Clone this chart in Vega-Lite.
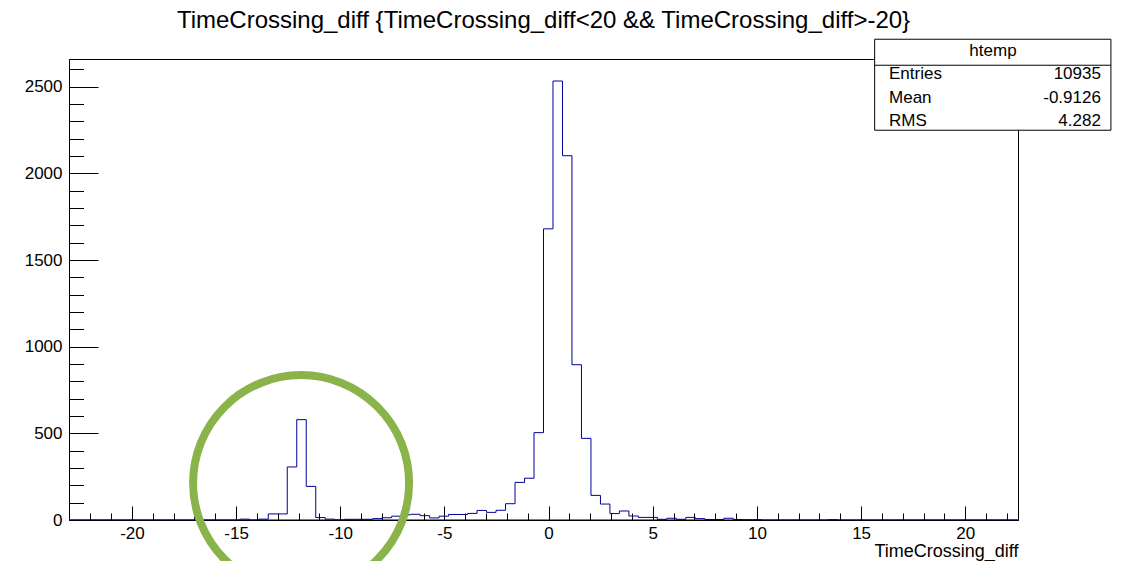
{
  "$schema": "https://vega.github.io/schema/vega-lite/v6.json",
  "autosize": "none",
  "width": 949,
  "height": 461,
  "padding": {"left": 69, "top": 59, "right": 104, "bottom": 41},
  "background": "white",
  "title": {
    "text": "TimeCrossing_diff {TimeCrossing_diff<20 && TimeCrossing_diff>-20}",
    "font": "Liberation Sans",
    "fontSize": 24,
    "fontWeight": "normal",
    "color": "black",
    "anchor": "middle",
    "frame": "group",
    "offset": 6
  },
  "config": {
    "font": "Liberation Sans",
    "view": {"stroke": "black", "strokeWidth": 1},
    "axis": {
      "grid": false,
      "domainColor": "black",
      "domainWidth": 1,
      "tickColor": "black",
      "tickWidth": 1,
      "labelFont": "Liberation Sans",
      "labelFontSize": 17,
      "labelColor": "black",
      "labelOverlap": false,
      "labelFlush": false,
      "titleFont": "Liberation Sans",
      "titleColor": "black",
      "titleFontWeight": "normal"
    }
  },
  "datasets": {
    "hist": [
      {"bin_start": -23.02, "count": 0},
      {"bin_start": -22.565, "count": 0},
      {"bin_start": -22.109, "count": 0},
      {"bin_start": -21.654, "count": 0},
      {"bin_start": -21.198, "count": 0},
      {"bin_start": -20.743, "count": 0},
      {"bin_start": -20.287, "count": 0},
      {"bin_start": -19.832, "count": 0},
      {"bin_start": -19.376, "count": 0},
      {"bin_start": -18.921, "count": 0},
      {"bin_start": -18.465, "count": 0},
      {"bin_start": -18.01, "count": 0},
      {"bin_start": -17.554, "count": 0},
      {"bin_start": -17.099, "count": 0},
      {"bin_start": -16.643, "count": 0},
      {"bin_start": -16.188, "count": 0},
      {"bin_start": -15.732, "count": 0},
      {"bin_start": -15.277, "count": 0},
      {"bin_start": -14.821, "count": 5},
      {"bin_start": -14.366, "count": 0},
      {"bin_start": -13.91, "count": 5},
      {"bin_start": -13.455, "count": 35},
      {"bin_start": -12.999, "count": 35},
      {"bin_start": -12.544, "count": 306},
      {"bin_start": -12.088, "count": 579},
      {"bin_start": -11.633, "count": 194},
      {"bin_start": -11.177, "count": 14},
      {"bin_start": -10.722, "count": 5},
      {"bin_start": -10.266, "count": 1},
      {"bin_start": -9.811, "count": 4},
      {"bin_start": -9.355, "count": 4},
      {"bin_start": -8.9, "count": 4},
      {"bin_start": -8.444, "count": 8},
      {"bin_start": -7.989, "count": 13},
      {"bin_start": -7.533, "count": 22},
      {"bin_start": -7.078, "count": 30},
      {"bin_start": -6.622, "count": 33},
      {"bin_start": -6.167, "count": 25},
      {"bin_start": -5.711, "count": 12},
      {"bin_start": -5.256, "count": 22},
      {"bin_start": -4.8, "count": 32},
      {"bin_start": -4.345, "count": 32},
      {"bin_start": -3.889, "count": 38},
      {"bin_start": -3.434, "count": 55},
      {"bin_start": -2.978, "count": 44},
      {"bin_start": -2.523, "count": 56},
      {"bin_start": -2.067, "count": 94},
      {"bin_start": -1.612, "count": 217},
      {"bin_start": -1.156, "count": 241},
      {"bin_start": -0.701, "count": 504},
      {"bin_start": -0.245, "count": 1680},
      {"bin_start": 0.21, "count": 2533},
      {"bin_start": 0.666, "count": 2102},
      {"bin_start": 1.121, "count": 896},
      {"bin_start": 1.577, "count": 471},
      {"bin_start": 2.032, "count": 142},
      {"bin_start": 2.488, "count": 92},
      {"bin_start": 2.943, "count": 37},
      {"bin_start": 3.399, "count": 52},
      {"bin_start": 3.854, "count": 23},
      {"bin_start": 4.31, "count": 15},
      {"bin_start": 4.765, "count": 15},
      {"bin_start": 5.221, "count": 4},
      {"bin_start": 5.676, "count": 10},
      {"bin_start": 6.132, "count": 4},
      {"bin_start": 6.587, "count": 15},
      {"bin_start": 7.043, "count": 8},
      {"bin_start": 7.498, "count": 3},
      {"bin_start": 7.954, "count": 3},
      {"bin_start": 8.409, "count": 10},
      {"bin_start": 8.865, "count": 3},
      {"bin_start": 9.32, "count": 2},
      {"bin_start": 9.776, "count": 2},
      {"bin_start": 10.231, "count": 0},
      {"bin_start": 10.687, "count": 0},
      {"bin_start": 11.142, "count": 0},
      {"bin_start": 11.598, "count": 0},
      {"bin_start": 12.053, "count": 0},
      {"bin_start": 12.509, "count": 0},
      {"bin_start": 12.964, "count": 0},
      {"bin_start": 13.42, "count": 2},
      {"bin_start": 13.875, "count": 0},
      {"bin_start": 14.331, "count": 0},
      {"bin_start": 14.786, "count": 0},
      {"bin_start": 15.242, "count": 0},
      {"bin_start": 15.697, "count": 0},
      {"bin_start": 16.153, "count": 0},
      {"bin_start": 16.608, "count": 0},
      {"bin_start": 17.064, "count": 0},
      {"bin_start": 17.519, "count": 0},
      {"bin_start": 17.975, "count": 0},
      {"bin_start": 18.43, "count": 0},
      {"bin_start": 18.886, "count": 0},
      {"bin_start": 19.341, "count": 0},
      {"bin_start": 19.797, "count": 0},
      {"bin_start": 20.252, "count": 0},
      {"bin_start": 20.708, "count": 0},
      {"bin_start": 21.163, "count": 0},
      {"bin_start": 21.619, "count": 0},
      {"bin_start": 22.074, "count": 0},
      {"bin_start": 22.53, "count": 0}
    ],
    "one": [{"item": "annotation"}]
  },
  "layer": [
    {
      "data": {"name": "hist"},
      "mark": {"type": "line", "interpolate": "step-after", "color": "#000099", "strokeWidth": 1},
      "encoding": {
        "x": {
          "field": "bin_start",
          "type": "quantitative",
          "scale": {"domain": [-23.02, 22.53], "nice": false, "zero": false},
          "axis": {
            "values": [-22, -21, -20, -19, -18, -17, -16, -15, -14, -13, -12, -11, -10, -9, -8, -7, -6, -5, -4, -3, -2, -1, 0, 1, 2, 3, 4, 5, 6, 7, 8, 9, 10, 11, 12, 13, 14, 15, 16, 17, 18, 19, 20, 21, 22],
            "tickCount": 200,
            "tickSize": {"condition": {"test": "datum.value % 5 === 0", "value": -14}, "value": -7},
            "labelExpr": "datum.value % 5 === 0 ? toString(datum.value) : ''",
            "labelPadding": 19,
            "labelBaseline": "top",
            "title": "TimeCrossing_diff",
            "titleFontSize": 18,
            "titleAnchor": "end",
            "titleAlign": "right",
            "titleBaseline": "alphabetic",
            "titleY": 36
          }
        },
        "y": {
          "field": "count",
          "type": "quantitative",
          "scale": {"domain": [0, 2660], "nice": false},
          "axis": {
            "values": [0, 100, 200, 300, 400, 500, 600, 700, 800, 900, 1000, 1100, 1200, 1300, 1400, 1500, 1600, 1700, 1800, 1900, 2000, 2100, 2200, 2300, 2400, 2500, 2600],
            "tickCount": 200,
            "tickSize": {"condition": {"test": "datum.value % 500 === 0", "value": -29}, "value": -14.5},
            "labelExpr": "datum.value % 500 === 0 ? toString(datum.value) : ''",
            "labelPadding": 36,
            "title": null
          }
        }
      }
    },
    {
      "data": {"name": "one"},
      "mark": {"type": "rule", "color": "black", "strokeWidth": 1},
      "encoding": {"y": {"datum": 0}}
    },
    {
      "data": {"name": "one"},
      "mark": {"type": "rect", "fill": "white", "stroke": "black", "strokeWidth": 1},
      "encoding": {
        "x": {"datum": 15.65},
        "x2": {"datum": 26.99},
        "y": {"datum": 2774},
        "y2": {"datum": 2249}
      }
    },
    {
      "data": {"name": "one"},
      "mark": {"type": "rule", "color": "black", "strokeWidth": 1},
      "encoding": {
        "x": {"datum": 15.65},
        "x2": {"datum": 26.99},
        "y": {"datum": 2624}
      }
    },
    {
      "data": {"name": "one"},
      "mark": {"type": "text", "text": "htemp", "font": "Liberation Sans", "fontSize": 17, "color": "black", "align": "center", "baseline": "middle"},
      "encoding": {"x": {"datum": 21.33}, "y": {"datum": 2706}}
    },
    {
      "data": {"name": "one"},
      "mark": {"type": "text", "text": ["Entries", "Mean", "RMS"], "font": "Liberation Sans", "fontSize": 17, "lineHeight": 23.5, "color": "black", "align": "left", "baseline": "middle"},
      "encoding": {"x": {"datum": 16.34}, "y": {"datum": 2573}}
    },
    {
      "data": {"name": "one"},
      "mark": {"type": "text", "text": ["10935", "-0.9126", "4.282"], "font": "Liberation Sans", "fontSize": 17, "lineHeight": 23.5, "color": "black", "align": "right", "baseline": "middle"},
      "encoding": {"x": {"datum": 26.51}, "y": {"datum": 2573}}
    },
    {
      "data": {"name": "one"},
      "mark": {"type": "point", "shape": "circle", "filled": false, "stroke": "#8ab34a", "strokeWidth": 8, "opacity": 1, "size": 46656},
      "encoding": {"x": {"datum": -11.88}, "y": {"datum": 213}}
    }
  ]
}
